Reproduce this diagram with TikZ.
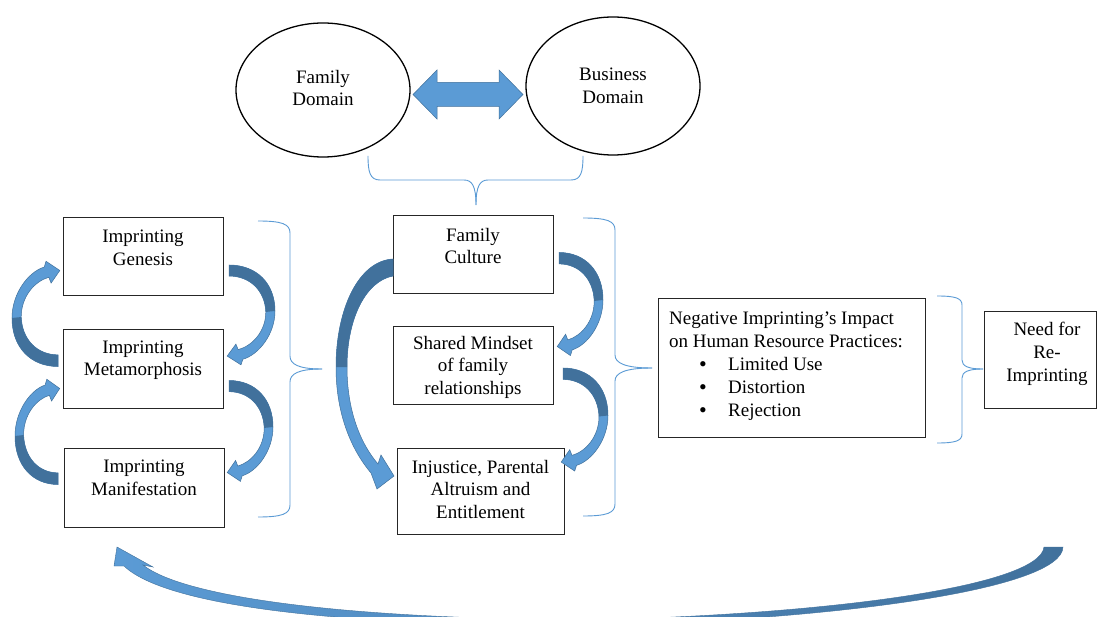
\documentclass[tikz,border=0pt]{standalone}
\usepackage{fontspec}
\setmainfont{Liberation Serif}
\usetikzlibrary{shapes.geometric}
\definecolor{lightarr}{HTML}{5B9BD5}
\definecolor{darkarr}{HTML}{41719C}
\definecolor{bracec}{HTML}{5B9BD5}
\tikzset{
  boxnode/.style={draw=black!85, line width=1pt, fill=white, minimum width=#1},
  txt/.style={font=\fontsize{19}{22.5}\selectfont, align=center, inner sep=0pt},
  domainell/.style={draw=black, line width=1.3pt, ellipse, inner sep=0pt},
  bracel/.style={draw=bracec, line width=0.9pt},
  arrlight/.style={fill=lightarr, draw=darkarr, line width=0.5pt},
  arrdark/.style={fill=darkarr},
}
\newcommand{\bigbul}{\hspace*{30pt}\makebox[29pt][l]{\smash{\raisebox{-0.5pt}{\fontsize{22}{23}\selectfont\textbullet}}}}
% canonical curved arrow: bulge at x=0, tail at x=1 bottom, head at x=1 top
\newcommand{\cvarrow}[1]{%
  \begin{scope}[#1]
  \path[arrlight] (1,-1) .. controls (0.4,-1.0) and (0,-0.6) .. (0,0)
     .. controls (0,0.5) and (0.35,0.95) .. (0.70,1.05)
     -- (0.74,1.17) -- (1.04,0.98) -- (0.85,0.72) -- (0.80,0.84)
     .. controls (0.5,0.76) and (0.2,0.45) .. (0.2,0.02)
     .. controls (0.22,-0.45) and (0.55,-0.76) .. (1,-0.76) -- cycle;
  \path[arrdark] (1,-1) .. controls (0.4,-1.0) and (0,-0.6) .. (0,0)
     -- (0.2,0.02) .. controls (0.22,-0.45) and (0.55,-0.76) .. (1,-0.76) -- cycle;
  \end{scope}}
\begin{document}
\begin{tikzpicture}[x=1pt,y=-1pt]
\useasboundingbox (0,0) rectangle (1097,617);
\fill[white] (0,0) rectangle (1097,617);
\clip (0,0) rectangle (1097,617);

% ellipses
\node[domainell, minimum width=174, minimum height=134] (famdom) at (323,90) {};
\node[txt] (famdomt) at (323,88) {Family\\Domain};
\node[domainell, minimum width=174, minimum height=138] (busdom) at (613,86) {};
\node[txt] (busdomt) at (613,86) {Business\\Domain};

% double arrow
\path[arrlight] (413,94.5) -- (437,70) -- (437,82.5) -- (499,82.5) -- (499,70) -- (523,94.5)
  -- (499,119) -- (499,106.5) -- (437,106.5) -- (437,119) -- cycle;

% top brace
\draw[bracel] (368,156) .. controls (368,172) and (370,180) .. (380,180) -- (464,180)
  .. controls (472,180) and (476,186) .. (476,205);
\draw[bracel] (583,156) .. controls (583,172) and (581,180) .. (571,180) -- (488,180)
  .. controls (480,180) and (476,186) .. (476,205);

% left column boxes
\node[boxnode=160, minimum height=78] (gen) at (143,257) {};
\node[txt] (gent) at (143,248) {Imprinting\\Genesis};
\node[boxnode=160, minimum height=78] (meta) at (143,369) {};
\node[txt] (metat) at (143,360) {Imprinting\\Metamorphosis};
\node[boxnode=160, minimum height=79] (mani) at (144,487.5) {};
\node[txt] (manit) at (144,478) {Imprinting\\Manifestation};

% middle column boxes
\node[boxnode=160, minimum height=78] (cult) at (473,255) {};
\node[txt] (cultt) at (473,246) {Family\\Culture};
\node[boxnode=160, minimum height=77] (mind) at (473,365.5) {};
\node[txt] (mindt) at (473,367) {Shared Mindset\\of family\\relationships};
\node[boxnode=167, minimum height=86] (inj) at (480.5,491) {};
\node[txt] (injt) at (480.5,489) {Injustice, Parental\\Altruism and\\Entitlement};

% right boxes
\node[boxnode=267, minimum height=138] (neg) at (791.5,368) {};
\node[txt, align=left, anchor=north west, font=\fontsize{19}{23}\selectfont] (negt) at (669,312)
  {Negative Imprinting’s Impact\\
   on Human Resource Practices:\\
   \bigbul Limited Use\\
   \bigbul Distortion\\
   \bigbul Rejection};
\node[boxnode=112, minimum height=96] (need) at (1040,360) {};
\node[txt, font=\fontsize{19}{23}\selectfont] (needt) at (1047,354) {Need for\\Re-\\Imprinting};

% braces
\draw[bracel] (258,221) .. controls (282,221) and (290,224) .. (290,233) -- (290,356)
  .. controls (290,364) and (298,369) .. (322,369);
\draw[bracel] (258,517) .. controls (282,517) and (290,514) .. (290,505) -- (290,382)
  .. controls (290,374) and (298,369) .. (322,369);
\draw[bracel] (583,218) .. controls (607,218) and (615,221) .. (615,230) -- (615,355)
  .. controls (615,363) and (625,368) .. (652,368);
\draw[bracel] (583,516) .. controls (607,516) and (615,513) .. (615,504) -- (615,381)
  .. controls (615,373) and (625,368) .. (652,368);
\draw[bracel] (937,296) .. controls (955,296) and (962,298) .. (962,305) -- (962,360)
  .. controls (962,366) and (968,369) .. (983,369);
\draw[bracel] (937,443) .. controls (955,443) and (962,441) .. (962,434) -- (962,378)
  .. controls (962,372) and (968,369) .. (983,369);

% curved arrows, left column
\cvarrow{shift={(12,318)}, xscale=46, yscale=-48.5}
\cvarrow{shift={(15,436)}, xscale=43, yscale=-48.5}
\cvarrow{shift={(275,311)}, xscale=-46, yscale=46}
\cvarrow{shift={(273,427)}, xscale=-44, yscale=46.5}
% middle column right side
\cvarrow{shift={(603,300)}, xscale=-44, yscale=47.5}
\cvarrow{shift={(608,415.5)}, xscale=-45, yscale=47.5}

% big arrow Family Culture -> Injustice
\path[arrlight] (393,259) .. controls (358,261) and (336,310) .. (336,367)
  .. controls (336,412) and (350,448) .. (371,473)
  -- (377,489) -- (394,476) -- (381,455) -- (378,464)
  .. controls (360,443) and (347,410) .. (347,367)
  .. controls (347,318) and (366,281) .. (393,276) -- cycle;
\path[arrdark] (393,259) .. controls (358,261) and (336,310) .. (336,367)
  -- (347,367) .. controls (347,318) and (366,281) .. (393,276) -- cycle;

% bottom arrow
\shade[left color=lightarr, right color=darkarr, draw=darkarr, line width=0.4pt]
  (1063,547) .. controls (1062,588) and (850,619) .. (590,626)
  .. controls (330,626) and (165,605) .. (124,566)
  -- (114,566) -- (117,547) -- (153,567) -- (143,565)
  .. controls (185,598) and (350,619) .. (590,620)
  .. controls (840,614) and (1040,585) .. (1044,547) -- cycle;
\end{tikzpicture}
\end{document}
